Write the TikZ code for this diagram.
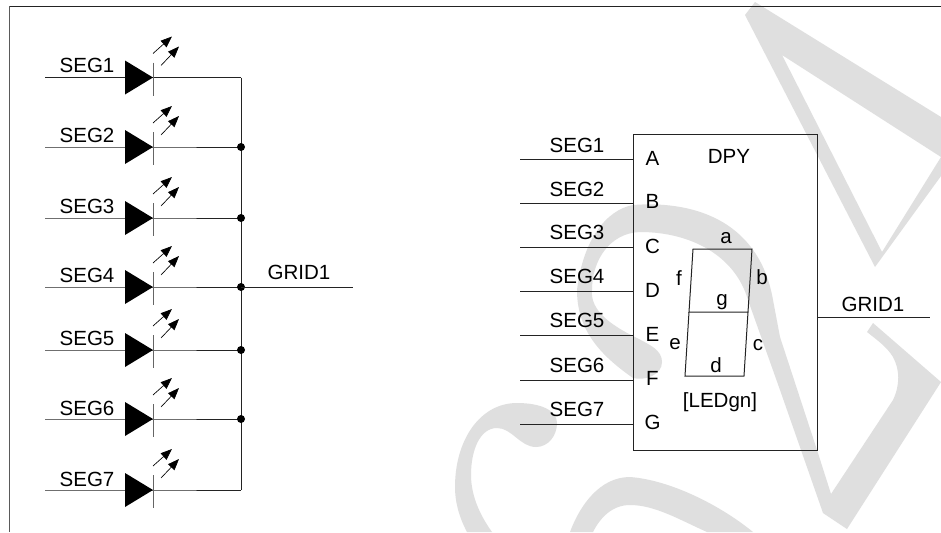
\documentclass[tikz,border=0pt]{standalone}
\usepackage{fontspec}
\setmainfont{Liberation Sans}
\usetikzlibrary{arrows.meta}
\definecolor{wm}{RGB}{223,223,223}
\definecolor{ln}{RGB}{35,35,35}
\tikzset{
  wire/.style={draw=ln,line width=0.75pt},
  bar/.style={draw=ln!70,line width=0.75pt},
  lbl/.style={font=\fontsize{15.4}{17}\selectfont,inner sep=0pt,anchor=base,text=black},
  jdot/.style={circle,fill=black,inner sep=0pt,minimum size=6pt},
  lightray/.style={draw=black,line width=0.5pt,-{Triangle[length=8.5pt,width=6.5pt]}},
  wmark/.style={fill=wm,draw=none}
}
\begin{document}
\begin{tikzpicture}[x=0.75pt,y=-0.75pt]
\useasboundingbox (0,0) rectangle (941,532);
\fill[white] (0,0) rectangle (941,532);
% watermark: triangle
\fill[wmark,even odd rule] (755,2) -- (941,117) -- (941,176) -- (875,267) -- (745,15) -- cycle
  (782,55) -- (941,157) -- (882,252) -- cycle;
% watermark: arc, blob, descending stroke, chevron
\fill[wmark] (633,205) .. controls (606,210) and (583,240) .. (577,290)
  .. controls (577,330) and (600,355) .. (633,378)
  .. controls (645,381) and (662,375) .. (662,362)
  .. controls (662,350) and (650,345) .. (637,338)
  .. controls (610,325) and (590,310) .. (592,290)
  .. controls (592,260) and (610,233) .. (640,232)
  .. controls (690,232) and (735,255) .. (748,300)
  -- (780,390) -- (823,513) -- (847,529) -- (941,382) -- (873,323) -- (867,332)
  .. controls (877,340) and (887,347) .. (893,357)
  .. controls (900,370) and (900,385) .. (893,400)
  -- (831,494) -- (817,450) -- (780,337) -- (773,300)
  .. controls (760,225) and (700,200) .. (633,205) -- cycle;
% watermark: lower curves
\fill[wmark] (557,423) .. controls (557,436) and (548,447) .. (536,447)
  .. controls (520,447) and (512,428) .. (497,428)
  .. controls (480,428) and (471,450) .. (471,475)
  .. controls (471,498) and (482,518) .. (492,532)
  -- (467,532) .. controls (458,515) and (455,500) .. (455,487)
  .. controls (455,440) and (480,403) .. (517,403)
  .. controls (540,403) and (557,410) .. (557,423) -- cycle;
\fill[wmark] (570,532) .. controls (580,505) and (600,477) .. (630,477)
  .. controls (670,480) and (720,505) .. (753,532)
  -- (707,532) .. controls (680,520) and (655,505) .. (630,505)
  .. controls (612,505) and (600,518) .. (593,532) -- cycle;
% frame
\coordinate (frameTL) at (9,6);
\coordinate (frameTR) at (941,6);
\coordinate (frameBL) at (9,532);
\draw[wire] (frameTR) -- (frameTL);
\draw[wire,draw=ln!75] (frameTL) -- (frameBL);
% left: LED bank
\coordinate (busTop) at (241,77.5);
\coordinate (busBot) at (241,490);
\foreach \n/\y/\b in {1/77.5/72,2/147/142,3/218/213,4/287/282,5/350/345,6/419/415,7/490/486}{
  \coordinate (in\n) at (45,\y);
  \coordinate (tip\n) at (153,\y);
  \coordinate (bus\n) at (241,\y);
  \node[lbl] (lseg\n) at (87,\b) {SEG\n};
  \draw[wire] (in\n) -- (tip\n) -- (bus\n);
  \fill[black] (125,\y-17) -- (153,\y) -- (125,\y+17) -- cycle;
  \draw[bar] (153,\y-15) -- (153,\y+18);
  \coordinate (rayA\n) at (153,\y-24);
  \coordinate (rayAe\n) at (172,\y-41);
  \coordinate (rayB\n) at (161,\y-12);
  \coordinate (rayBe\n) at (179,\y-31);
  \draw[lightray] (rayA\n) -- (rayAe\n);
  \draw[lightray] (rayB\n) -- (rayBe\n);
}
\draw[wire] (busTop) -- (busBot);
\foreach \n in {2,3,4,5,6}{ \node[jdot] (dot\n) at (bus\n) {}; }
\coordinate (gridEndL) at (353,287);
\draw[wire] (bus4) -- (gridEndL);
\node[lbl] (lgrid) at (299,279) {GRID1};
% right: DPY block
\coordinate (boxTL) at (633,134);
\coordinate (boxBR) at (817,450);
\draw[wire] (boxTL) rectangle (boxBR);
\node[lbl] (dpy) at (729,163) {DPY};
\foreach \n/\y/\b/\p/\py in {1/159/152/A/165,2/203/196/B/208,3/247/239/C/253,4/291/283/D/297,5/335/327/E/341,6/380/372/F/385,7/424/416/G/429}{
  \coordinate (rin\n) at (520,\y);
  \coordinate (rpin\n) at (633,\y);
  \draw[wire] (rin\n) -- (rpin\n);
  \node[lbl] (rseg\n) at (577,\b) {SEG\n};
  \node[lbl] (pin\p) at (652.5,\py) {\p};
}
\coordinate (gridStartR) at (817,317);
\coordinate (gridEndR) at (930,317);
\draw[wire] (gridStartR) -- (gridEndR);
\node[lbl] (rgrid) at (873,311) {GRID1};
% seven segment outline
\coordinate (sA) at (693,249);
\coordinate (sB) at (752,249);
\coordinate (sC) at (689,312);
\coordinate (sD) at (748,312);
\coordinate (sE) at (685,376);
\coordinate (sF) at (744,376);
\draw[wire] (sA) -- (sB) -- (sD) -- (sC) -- cycle;
\draw[wire] (sC) -- (sE) -- (sF) -- (sD);
\node[lbl] (sega) at (726,243) {a};
\node[lbl] (segb) at (762,284) {b};
\node[lbl] (segc) at (758,350) {c};
\node[lbl] (segd) at (716,372) {d};
\node[lbl] (sege) at (675,349) {e};
\node[lbl] (segf) at (679,285) {f};
\node[lbl] (segg) at (722,305) {g};
\node[lbl] (ledgn) at (720,407) {[LEDgn]};
\end{tikzpicture}
\end{document}
